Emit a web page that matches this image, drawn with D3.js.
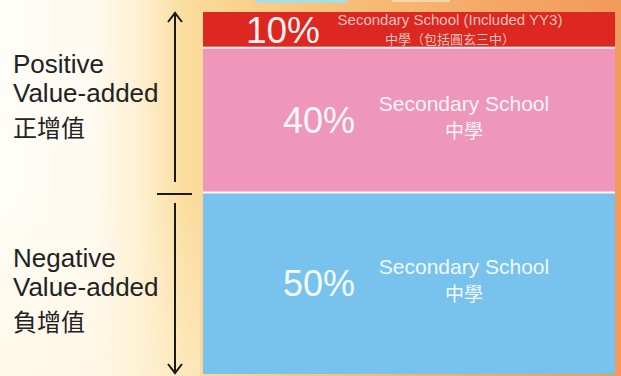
<!DOCTYPE html>
<html><head><meta charset="utf-8">
<script src="https://cdn.jsdelivr.net/npm/d3@7/dist/d3.min.js"></script>
<style>html,body{margin:0;padding:0;background:#fff;}svg{display:block;}</style>
</head><body><div id="chart"></div>
<script>
// ---- data ----
const categoriesEn = ["Secondary School (Included YY3)", "Secondary School", "Secondary School"];
const categoriesZh = ["中學（包括圓玄三中）", "中學", "中學"];
const values = [10, 40, 50];
const valueLabels = ["10%", "40%", "50%"];
const segmentColors = ["#dc2820", "#ee97bb", "#78c3ee"];
const groupNames = [["Positive", "Value-added", "正增值"], ["Negative", "Value-added", "負增值"]];
const groupSpans = [[0, 50], [50, 100]];

const W = 621, H = 376;
const svg = d3.select("#chart").append("svg").attr("width", W).attr("height", H);
const defs = svg.append("defs");

// background
const bg = defs.append("linearGradient").attr("id", "bg").attr("x1", 0).attr("x2", 1).attr("y1", 0).attr("y2", 0);
[[0, "#fffdf7"], [0.15, "#fffaf1"], [0.22, "#fef1d4"], [0.3, "#fbdc9c"], [0.5, "#f8c47e"], [0.8, "#f4a866"], [1, "#f29a5a"]]
  .forEach(([o, c]) => bg.append("stop").attr("offset", o).attr("stop-color", c));
svg.append("rect").attr("width", W).attr("height", H).attr("fill", "url(#bg)");
const bgv = defs.append("linearGradient").attr("id", "bgv").attr("x1", 0).attr("x2", 0).attr("y1", 0).attr("y2", 1);
[[0, "#fff6e0", 0], [0.5, "#fff6e0", 0.0], [1, "#fff4d8", 0.5]]
  .forEach(([o, c, a]) => bgv.append("stop").attr("offset", o).attr("stop-color", c).attr("stop-opacity", a));
svg.append("rect").attr("width", 200).attr("height", H).attr("fill", "url(#bgv)");
// cut-off top elements
svg.append("rect").attr("x", 255).attr("y", -4).attr("width", 92).attr("height", 7).attr("rx", 2).attr("fill", "#a8dde6");
svg.append("rect").attr("x", 392).attr("y", -4).attr("width", 58).attr("height", 6).attr("fill", "#f7e2c6").attr("opacity", 0.7);

// scales
const y = d3.scaleLinear().domain([0, 100]).range([12, 374]);
const x = d3.scaleBand().domain(["bar"]).range([203, 615]).padding(0);

const stacked = [];
let acc = 0;
values.forEach((v, i) => { stacked.push({ i, y0: acc, y1: acc + v }); acc += v; });

const g = svg.append("g");
g.selectAll("rect.seg").data(stacked).join("rect").attr("class", "seg")
  .attr("x", x("bar")).attr("width", x.bandwidth())
  .attr("y", d => y(d.y0)).attr("height", d => y(d.y1) - y(d.y0))
  .attr("fill", d => segmentColors[d.i]);
// separators
g.selectAll("rect.sep").data(stacked.slice(1)).join("rect").attr("class", "sep")
  .attr("x", x("bar")).attr("width", x.bandwidth())
  .attr("y", d => y(d.y0) - 1.5).attr("height", 2).attr("fill", "#fbf4f8");

// labels inside
const labelFont = "'Liberation Sans', Arial, sans-serif";
const cjkFont = "'Noto Sans CJK TC', 'Noto Sans CJK SC', sans-serif";
const pctX = [283, 319, 319];
const txtX = [450, 464, 464];
const pctSize = [37, 36, 36];
const enSize = [15, 21, 21];
const zhSize = [13, 19, 19];
stacked.forEach(d => {
  const mid = (y(d.y0) + y(d.y1)) / 2;
  const small = d.i === 0;
  const fill = small ? "#f9d2cc" : "#fff";
  g.append("text").attr("x", pctX[d.i]).attr("y", small ? mid + 13 : mid + 12)
    .attr("text-anchor", "middle").attr("font-family", labelFont).attr("font-size", pctSize[d.i])
    .attr("fill", "#fff").attr("fill-opacity", 0.95).text(valueLabels[d.i]);
  g.append("text").attr("x", txtX[d.i]).attr("y", small ? mid - 5 : mid - 10)
    .attr("text-anchor", "middle").attr("fill", fill).attr("fill-opacity", 0.92)
    .attr("font-family", labelFont).attr("font-size", enSize[d.i]).text(categoriesEn[d.i]);
  g.append("text").attr("x", txtX[d.i]).attr("y", small ? mid + 13.5 : mid + 17)
    .attr("text-anchor", "middle").attr("fill", fill).attr("fill-opacity", 0.92)
    .attr("font-family", cjkFont).attr("font-size", zhSize[d.i]).text(categoriesZh[d.i]);
});

// arrows
const ax = 175;
const ink = "#1a1a1a";
const arr = svg.append("g").attr("stroke", ink).attr("stroke-width", 2).attr("fill", "none");
const top0 = y(groupSpans[0][0]), midY = y(groupSpans[0][1]) + 1, bot = y(groupSpans[1][1]);
arr.append("line").attr("x1", ax).attr("x2", ax).attr("y1", top0 + 1).attr("y2", midY - 12);
arr.append("path").attr("d", `M${ax - 7},${top0 + 10} L${ax},${top0 + 1} L${ax + 7},${top0 + 10}`);
arr.append("line").attr("x1", 157).attr("x2", 192).attr("y1", midY).attr("y2", midY);
arr.append("line").attr("x1", ax).attr("x2", ax).attr("y1", midY + 9).attr("y2", bot - 1);
arr.append("path").attr("d", `M${ax - 7},${bot - 10} L${ax},${bot - 1} L${ax + 7},${bot - 10}`);

// group labels
const baselines = [[73, 102, 136.5], [267, 296, 330.5]];
groupNames.forEach((lines, gi) => {
  lines.forEach((s, li) => {
    svg.append("text").attr("fill", "#222").attr("x", 13).attr("y", baselines[gi][li])
      .attr("font-family", li === 2 ? cjkFont : labelFont)
      .attr("font-size", li === 2 ? 24 : 26).text(s);
  });
});
</script></body></html>
